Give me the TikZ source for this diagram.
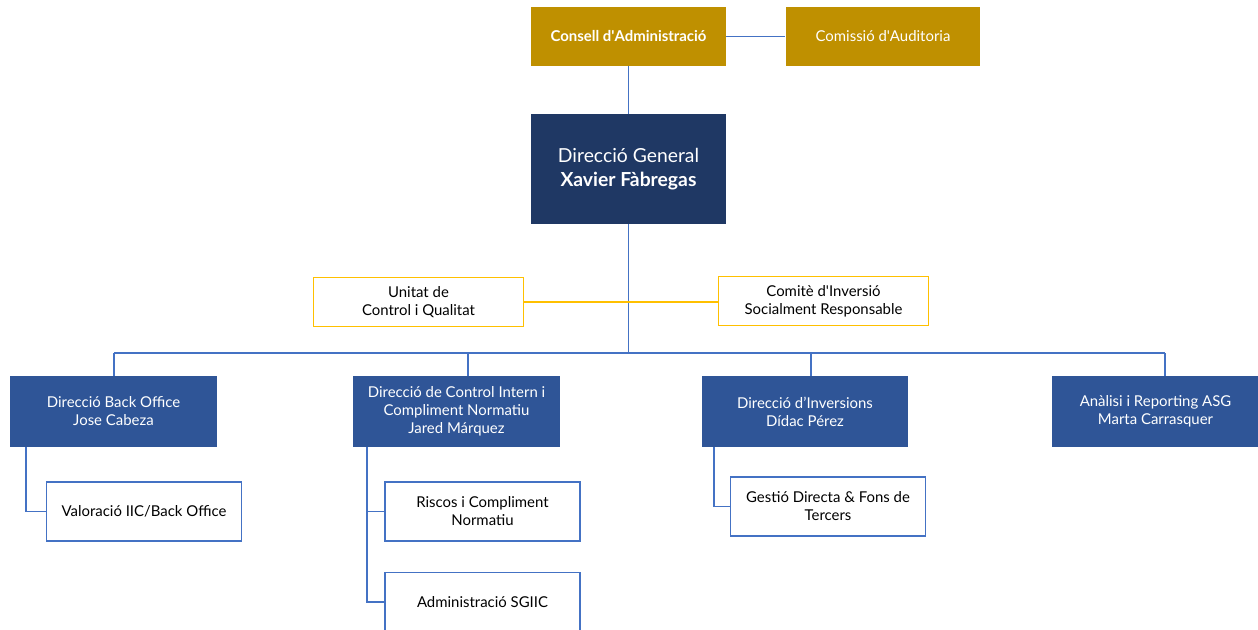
\documentclass[tikz,border=0pt]{standalone}
\usepackage{fontspec}
\setmainfont{Lato}
\usetikzlibrary{positioning}

\definecolor{goldbox}{HTML}{BF9000}
\definecolor{navybox}{HTML}{1F3864}
\definecolor{bluebox}{HTML}{2F5597}
\definecolor{linkblue}{HTML}{4472C4}
\definecolor{amberline}{HTML}{FFC000}

\tikzset{
  boardbox/.style={fill=goldbox, text=white, minimum width=3.9cm, minimum height=1.18cm,
    align=center, inner sep=2pt, font=\fontsize{8.5}{10.2}\selectfont},
  headbox/.style={fill=navybox, text=white, minimum width=3.9cm, minimum height=2.2cm,
    align=center, font=\fontsize{11}{13.6}\selectfont},
  unitbox/.style={draw=amberline, line width=0.9pt, fill=white, minimum width=4.2cm,
    minimum height=0.98cm, align=center, font=\fontsize{8.5}{10.2}\selectfont},
  deptbox/.style={fill=bluebox, text=white, minimum width=4.14cm, minimum height=1.42cm,
    align=center, inner sep=2pt, font=\fontsize{8.5}{10.2}\selectfont},
  subbox/.style={draw=linkblue, line width=0.8pt, fill=white, minimum width=3.9cm,
    minimum height=1.18cm, align=center, font=\fontsize{8.5}{10.2}\selectfont},
  link/.style={draw=linkblue, line width=0.9pt},
  amberlink/.style={draw=amberline, line width=0.9pt}
}

\begin{document}
\begin{tikzpicture}[x=0.02cm, y=-0.02cm]
  \useasboundingbox (0,0) rectangle (1258,629);

  % Board and committee
  \node[boardbox, font=\fontsize{8.5}{10.2}\selectfont\bfseries] (consell) at (628.5,36.5)
    {Consell d\textquotesingle Administració};
  \node[boardbox] (comissio) at (883,36.5) {Comissió d\textquotesingle Auditoria};

  % General management
  \node[headbox] (dg) at (628.5,169) {Direcció General\\\textbf{Xavier Fàbregas}};

  % Lines
  \draw[link] (consell) -- (comissio);
  \draw[link] (consell) -- (dg);
  \coordinate (bus) at (628.5,353);
  \draw[link] (dg) -- (bus);

  % Staff units
  \node[unitbox] (ucq) at (418.5,302) {Unitat de\\Control i Qualitat};
  \node[unitbox] (cisr) at (823.5,301) {Comitè d\textquotesingle Inversió\\Socialment Responsable};
  \draw[amberlink] (ucq.east) -- (cisr.west |- ucq.east);

  % Departments
  \node[deptbox] (bo) at (113.5,411.5) {Direcció Back Office\\Jose Cabeza};
  \node[deptbox] (ci) at (456.5,411.5) {Direcció de Control Intern i\\Compliment Normatiu\\Jared Márquez};
  \node[deptbox] (inv) at (805,411.5) {Direcció d’Inversions\\Dídac Pérez};
  \node[deptbox] (asg) at (1155.5,411.5) {Anàlisi i Reporting ASG\\Marta Carrasquer};

  % Bus to departments
  \coordinate (tap-bo) at (114,353);
  \coordinate (tap-ci) at (468,353);
  \coordinate (tap-inv) at (811,353);
  \coordinate (tap-asg) at (1165,353);
  \draw[link] (tap-bo) -- (tap-asg);
  \draw[link] (tap-bo) -- (tap-bo |- bo.north);
  \draw[link] (tap-ci) -- (tap-ci |- ci.north);
  \draw[link] (tap-inv) -- (tap-inv |- inv.north);
  \draw[link] (tap-asg) -- (tap-asg |- asg.north);

  % Sub units
  \node[subbox] (val) at (144,511.5) {Valoració IIC/Back Office};
  \node[subbox] (risc) at (482.5,511.5) {Riscos i Compliment\\Normatiu};
  \node[subbox] (sgiic) at (482.5,602) {Administració SGIIC};
  \node[subbox] (gest) at (828,506.5) {Gestió Directa \& Fons de\\Tercers};

  \coordinate (drop-bo) at (26,447);
  \coordinate (drop-ci) at (367,447);
  \coordinate (drop-inv) at (714,447);
  \draw[link] (drop-bo) |- (val.west);
  \draw[link] (drop-ci) |- (sgiic.west);
  \draw[link] (drop-ci |- risc.west) -- (risc.west);
  \draw[link] (drop-inv) |- (gest.west);
\end{tikzpicture}
\end{document}
